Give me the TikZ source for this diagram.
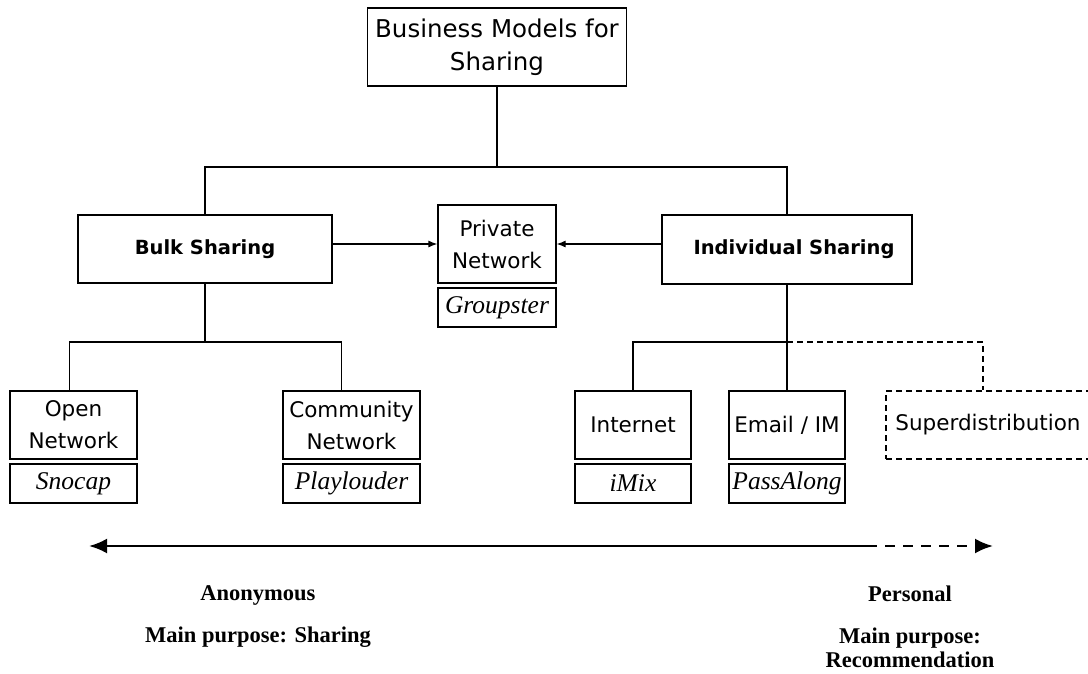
\documentclass[tikz,border=0pt]{standalone}
\usepackage{fontspec}
\setmainfont{Liberation Serif}
\setsansfont{DejaVu Sans}
\usetikzlibrary{arrows.meta,positioning}

\tikzset{
  model/.style={draw, line width=1.2pt, align=center, inner sep=2pt,
    font=\sffamily\fontsize{21.5}{32}\selectfont},
  modelbold/.style={model, font=\sffamily\bfseries\fontsize{19.5}{30}\selectfont},
  example/.style={draw, line width=1.2pt, minimum height=39pt, inner sep=0pt,
    font=\itshape\fontsize{25.5}{28}\selectfont},
  axislabel/.style={align=center, font=\bfseries\fontsize{22.5}{25}\selectfont},
}

\begin{document}
\begin{tikzpicture}[x=1pt, y=-1pt, >={Latex[length=9pt,width=7pt]}]
    \useasboundingbox (0,0) rectangle (1088,673);

    % Top of the tree
    \node[model, minimum width=259pt, minimum height=78pt, font=\sffamily\fontsize{24.5}{33}\selectfont] (root) at (497,47) {Business Models for\\Sharing};

    % Second level
    \node[modelbold, minimum width=254pt, minimum height=68pt] (bulk) at (205,249) {Bulk Sharing};
    \node[modelbold, minimum width=250pt, minimum height=69pt] (indiv) at (787,249.5) {\hspace*{14pt}Individual Sharing};
    \node[model, minimum width=118pt, minimum height=78pt] (private) at (497,244) {Private\\Network};
    \node[example, minimum width=118pt] (groupster) at (497,307.5) {Groupster};

    % Third level
    \node[model, minimum width=127pt, minimum height=68pt] (open) at (73.5,425) {Open\\Network};
    \node[example, minimum width=127pt] (snocap) at (73.5,483.5) {Snocap};
    \node[model, minimum width=137pt, minimum height=68pt] (comm) at (351.5,425) {Community\\Network};
    \node[example, minimum width=137pt] (playlouder) at (351.5,483.5) {Playlouder};
    \node[model, minimum width=116pt, minimum height=68pt] (inet) at (633,425) {Internet};
    \node[example, minimum width=116pt] (imix) at (633,483.5) {iMix};
    \node[model, minimum width=116pt, minimum height=68pt] (email) at (787,425) {Email / IM};
    \node[example, minimum width=116pt] (passalong) at (787,483.5) {PassAlong};
    \node[model, dash pattern=on 6pt off 4pt, minimum width=204pt, minimum height=68pt] (super) at (988,425) {Superdistribution};

    % Tree connectors
    \coordinate (rootsplit) at (497,167);
    \coordinate (bulksplit) at (205,342);
    \coordinate (indivsplit) at (787,342);
    \draw[line width=1.2pt] (root.south) -- (rootsplit);
    \draw[line width=1.2pt] (bulk.north) |- (indiv.north |- rootsplit) -- (indiv.north);
    \draw[line width=1.2pt] (bulk.south) -- (bulksplit);
    \draw[line width=1.2pt] ([xshift=-4pt]open.north) |- ([xshift=-10pt]comm.north |- bulksplit) -- ([xshift=-10pt]comm.north);
    \draw[line width=1.2pt] (indiv.south) -- (email.north);
    \draw[line width=1.2pt] (inet.north) |- (indivsplit);
    \draw[line width=1.2pt, dash pattern=on 6pt off 4pt] (indivsplit) -| ([xshift=-5pt]super.north);

    % Links into the private network
    \draw[->, line width=1.2pt] (bulk.east |- private.west) -- (private.west);
    \draw[->, line width=1.2pt] (indiv.west |- private.east) -- (private.east);

    % Anonymous / personal scale
    \coordinate (anonend) at (89,546);
    \coordinate (dashstart) at (867,546);
    \coordinate (persend) at (993,546);
    \draw[<-, line width=2.6pt, >={Latex[length=18pt,width=15pt]}] (anonend) -- (dashstart);
    \draw[->, line width=2.6pt, dash pattern=on 10pt off 8pt, >={Latex[length=18pt,width=15pt]}] (dashstart) -- (persend);

    \node[axislabel] (anon) at (258,595) {Anonymous};
    \node[axislabel] (anonpurpose) at (258,637) {Main purpose: Sharing};
    \node[axislabel] (pers) at (910,594) {Personal};
    \node[axislabel, font=\bfseries\fontsize{22.5}{24}\selectfont] (perspurpose) at (910,648) {Main purpose:\\Recommendation};
\end{tikzpicture}
\end{document}
